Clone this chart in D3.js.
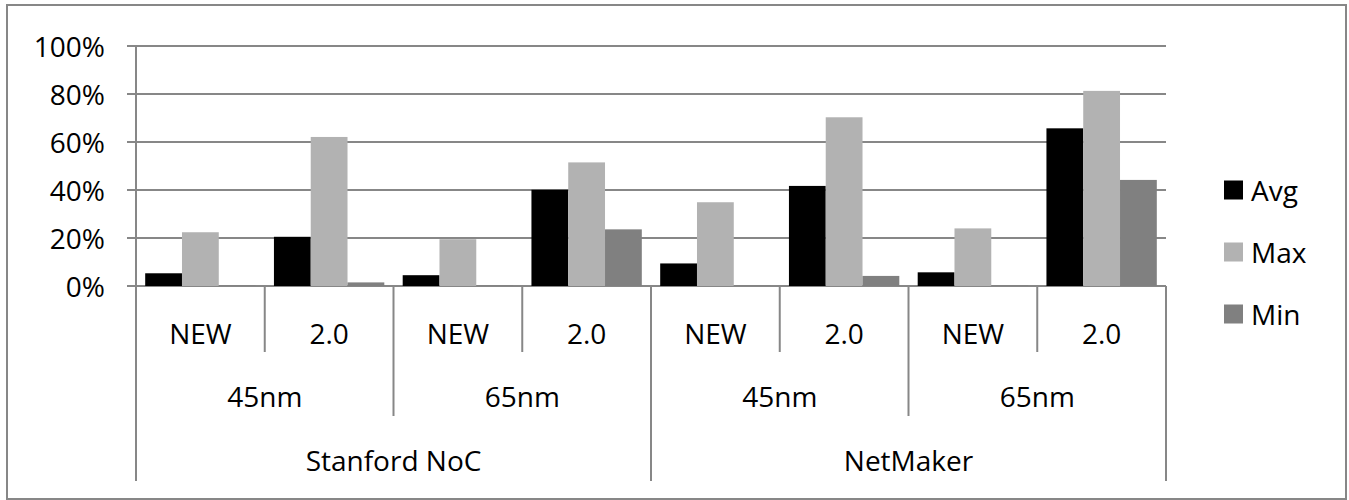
<!DOCTYPE html>
<html>
<head>
<meta charset="utf-8">
<script src="https://cdn.jsdelivr.net/npm/d3@7"></script>
<style>
  html, body { margin: 0; padding: 0; background: #fff; }
  svg text { font-family: "Open Sans", "Noto Sans", sans-serif; fill: #000; }
</style>
</head>
<body>
<svg id="chart" width="1349" height="500"></svg>
<script>
// Leaf categories (version), middle level (process node), outer level (network)
const versions = ["NEW", "2.0", "NEW", "2.0", "NEW", "2.0", "NEW", "2.0"];
const nodes = ["45nm", "65nm", "45nm", "65nm"];
const networks = ["Stanford NoC", "NetMaker"];

// Series values in percent
const seriesNames = ["Avg", "Max", "Min"];
const avgValues = [5.3, 20.5, 4.5, 40.1, 9.4, 41.7, 5.7, 65.7];
const maxValues = [22.4, 62.1, 19.5, 51.5, 34.9, 70.3, 24.0, 81.3];
const minValues = [0.2, 1.5, 0.2, 23.6, 0.2, 4.2, 0.2, 44.2];
const yTicks = [0, 20, 40, 60, 80, 100];

const colors = { Avg: "#000000", Max: "#b2b2b2", Min: "#808080" };
const lineColor = "#878787";
const fontSize = "28px";

const svg = d3.select("#chart");
const plot = { left: 136, right: 1166, top: 46, bottom: 286 };

// Outer frame
svg.append("rect")
  .attr("x", 7).attr("y", 5).attr("width", 1339).attr("height", 494)
  .attr("fill", "none").attr("stroke", lineColor).attr("stroke-width", 2);

const idx = d3.range(versions.length);
const x0 = d3.scaleBand().domain(idx).range([plot.left, plot.right]).paddingInner(0).paddingOuter(0);
const x1 = d3.scaleBand().domain(seriesNames).range([0, x0.bandwidth()]).paddingInner(0).paddingOuter(0.25);
const y = d3.scaleLinear().domain([0, 100]).range([plot.bottom, plot.top]);

// Gridlines with outside tick marks
svg.append("g").selectAll("line").data(yTicks).join("line")
  .attr("x1", plot.left - 9).attr("x2", plot.right)
  .attr("y1", d => y(d)).attr("y2", d => y(d))
  .attr("stroke", lineColor).attr("stroke-width", 2);

// Y tick labels
svg.append("g").selectAll("text").data(yTicks).join("text")
  .attr("x", 105).attr("y", d => y(d))
  .attr("text-anchor", "end").attr("dominant-baseline", "central")
  .style("font-size", fontSize)
  .text(d => d + "%");

// Vertical value axis
svg.append("line")
  .attr("x1", plot.left).attr("x2", plot.left)
  .attr("y1", plot.top).attr("y2", plot.bottom)
  .attr("stroke", lineColor).attr("stroke-width", 2);

// Bars
const rows = idx.map(i => ({ i, Avg: avgValues[i], Max: maxValues[i], Min: minValues[i] }));
const groups = svg.append("g").selectAll("g").data(rows).join("g")
  .attr("transform", d => `translate(${x0(d.i)},0)`);
groups.selectAll("rect")
  .data(d => seriesNames.map(s => ({ s, v: d[s] })))
  .join("rect")
  .attr("x", d => x1(d.s))
  .attr("width", x1.bandwidth())
  .attr("y", d => y(d.v))
  .attr("height", d => y(0) - y(d.v))
  .attr("fill", d => colors[d.s]);

// Category axis: three levels of labels separated by vertical lines
const rowBottoms = [352, 416, 481];
const rowCenters = [333, 396, 460];
const axisG = svg.append("g");
const bw = x0.bandwidth();

// Level lines: boundaries between versions (short), nodes (medium), networks (long)
const boundaries = d3.range(versions.length + 1);
axisG.selectAll("line").data(boundaries).join("line")
  .attr("x1", d => plot.left + d * bw).attr("x2", d => plot.left + d * bw)
  .attr("y1", plot.bottom)
  .attr("y2", d => d % 4 === 0 ? rowBottoms[2] : d % 2 === 0 ? rowBottoms[1] : rowBottoms[0])
  .attr("stroke", lineColor).attr("stroke-width", 2);

axisG.append("g").selectAll("text").data(versions).join("text")
  .attr("x", (d, i) => x0(i) + bw / 2).attr("y", rowCenters[0])
  .attr("text-anchor", "middle").attr("dominant-baseline", "central")
  .style("font-size", fontSize).text(d => d);

axisG.append("g").selectAll("text").data(nodes).join("text")
  .attr("x", (d, i) => plot.left + (i * 2 + 1) * bw).attr("y", rowCenters[1])
  .attr("text-anchor", "middle").attr("dominant-baseline", "central")
  .style("font-size", fontSize).text(d => d);

axisG.append("g").selectAll("text").data(networks).join("text")
  .attr("x", (d, i) => plot.left + (i * 4 + 2) * bw).attr("y", rowCenters[2])
  .attr("text-anchor", "middle").attr("dominant-baseline", "central")
  .style("font-size", fontSize).text(d => d);

// Legend
const legendY = d3.scalePoint().domain(seriesNames).range([190, 314]);
const legend = svg.append("g").selectAll("g").data(seriesNames).join("g")
  .attr("transform", d => `translate(1224,${legendY(d)})`);
legend.append("rect")
  .attr("x", 0).attr("y", -9.5).attr("width", 19).attr("height", 19)
  .attr("fill", d => colors[d]);
legend.append("text")
  .attr("x", 27).attr("y", 0).attr("dominant-baseline", "central")
  .style("font-size", fontSize).text(d => d);
</script>
</body>
</html>
